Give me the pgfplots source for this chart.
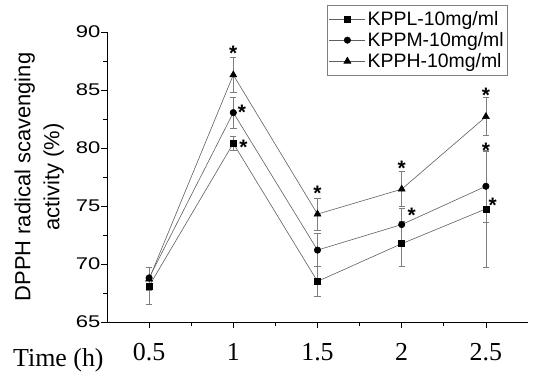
\documentclass[border=0pt]{standalone}
\usepackage{fontspec}
\setmainfont{Liberation Sans}
\newfontfamily\tickfont[FakeStretch=1.3]{Liberation Sans}
\newfontfamily\seriffont{Liberation Serif}
\usepackage{pgfplots}
\pgfplotsset{compat=1.18}
\definecolor{linegray}{RGB}{95,95,95}
\definecolor{errgray}{RGB}{125,125,125}
\begin{document}
\begin{tikzpicture}[x=1bp,y=1bp]
\begin{axis}[
  scale only axis,
  width=421bp, height=290bp,
  xmin=0.25, xmax=2.75,
  ymin=65, ymax=90,
  axis x line*=bottom, axis y line*=left,
  axis line style={-, line width=0.9bp, black},
  xtick={0.5,1,1.5,2,2.5},
  xticklabels={0.5,1,1.5,2,2.5},
  ytick={65,70,75,80,85,90},
  minor x tick num=1, minor y tick num=1,
  tick align=outside,
  major tick length=5.5bp, minor tick length=3.5bp,
  tick style={black, line width=0.8bp},
  /pgf/number format/assume math mode=true,
  yticklabel style={font=\tickfont\fontsize{17}{17}\selectfont, inner sep=1bp},
  xticklabel style={font=\seriffont\fontsize{26}{26}\selectfont, yshift=-12bp},
  ylabel={DPPH radical scavenging\\activity (\%)},
  ylabel style={font=\fontsize{22}{29}\selectfont, align=center, at={(axis description cs:0,0.5)}, anchor=south, yshift=43bp, inner sep=0pt},
  clip=false,
  legend style={at={(rel axis cs:0.9525,1.093)}, anchor=north east, draw=gray, line width=0.6bp,
    font=\fontsize{19.5}{21}\selectfont, inner xsep=2bp, inner ysep=4bp, row sep=1.5bp, fill=white},
  legend cell align=left,
  legend image code/.code={\draw[#1, linegray, line width=0.6bp] (0bp,0bp) -- (36bp,0bp); \draw[#1, mark repeat=1] plot coordinates {(18bp,0bp)};},
  every axis plot/.append style={linegray, line width=0.6bp},
  error bars/error bar style={errgray, line width=0.7bp},
  error bars/error mark options={rotate=90, mark size=3.2bp, errgray, line width=0.7bp},
]
\addplot[linegray, mark=square*, mark size=3bp, mark options={black, fill=black},
  error bars/.cd, y dir=both, y explicit]
  table[y error=e] {
x y e
0.5 68.1 1.6
1 80.4 0.6
1.5 68.5 1.3
2 71.75 1.95
2.5 74.75 5.0
};
\addlegendentry{KPPL-10mg/ml}
\addplot[linegray, mark=*, mark size=3.2bp, mark options={black, fill=black},
  error bars/.cd, y dir=both, y explicit]
  table[y error=e] {
x y e
0.5 68.8 0.9
1 83.05 1.35
1.5 71.2 1.4
2 73.4 1.4
2.5 76.7 3.1
};
\addlegendentry{KPPM-10mg/ml}
\addplot[linegray, mark=triangle*, mark size=4bp, mark options={black, fill=black},
  error bars/.cd, y dir=both, y explicit]
  table[y error=e] {
x y e
0.5 68.7 1.0
1 86.3 1.5
1.5 74.3 1.4
2 76.45 1.5
2.5 82.7 1.65
};
\addlegendentry{KPPH-10mg/ml}
\tikzset{star/.style={font=\bfseries\fontsize{21}{21}\selectfont, inner sep=0pt, anchor=base, yshift=-12bp}}
\node[star] at (axis cs:1,88.6) {*};
\node[star] at (axis cs:1.052,83.45) {*};
\node[star] at (axis cs:1.06,80.45) {*};
\node[star] at (axis cs:1.5,76.5) {*};
\node[star] at (axis cs:2,78.7) {*};
\node[star] at (axis cs:2.06,74.6) {*};
\node[star] at (axis cs:2.5,85.0) {*};
\node[star] at (axis cs:2.5,80.25) {*};
\node[star] at (axis cs:2.54,75.45) {*};
\node[font=\seriffont\fontsize{26}{26}\selectfont, anchor=base west, inner sep=0pt] at (rel axis cs:0,0) [xshift=-94bp, yshift=-44.7bp] {Time (h)};
\coordinate (bl) at (rel axis cs:0,0);
\coordinate (tr) at (rel axis cs:1,1);
\end{axis}
\pgfresetboundingbox
\path ([xshift=-107bp,yshift=-55bp]bl) rectangle ([xshift=5bp,yshift=32bp]tr);
\end{tikzpicture}
\end{document}
